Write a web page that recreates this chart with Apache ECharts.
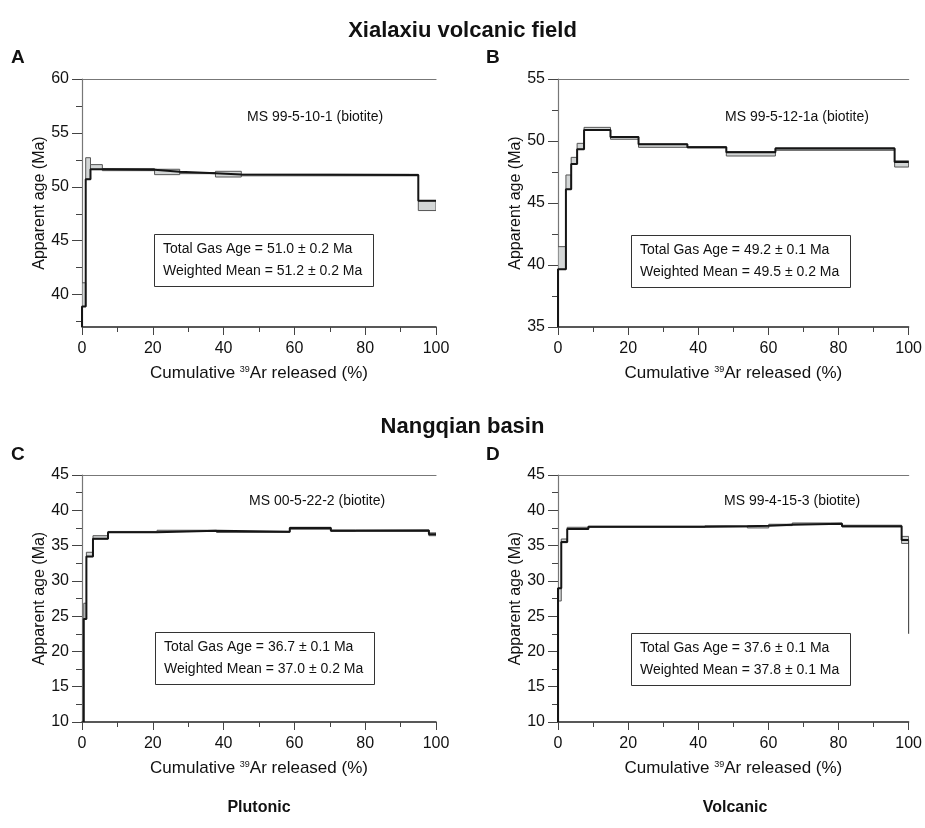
<!DOCTYPE html>
<html>
<head>
<meta charset="utf-8">
<script src="https://cdn.jsdelivr.net/npm/echarts@6.0.0/dist/echarts.min.js"></script>
<style>
  html, body { margin: 0; padding: 0; background: #fff; }
  #chart { width: 925px; height: 828px; }
</style>
</head>
<body>
<div id="chart"></div>
<script>
// step spectra: cumulative 39Ar (%) boundaries, error box low/high, age line (Ma)
const stepsA = [0, 1.05, 2.4, 5.75, 20.5, 27.6, 37.7, 45.0, 95.0, 100];
const lowA   = [38.9, 50.7, 51.6, 51.5, 51.13, 51.22, 50.91, 51.02, 47.8];
const highA  = [41.1, 52.7, 52.06, 51.7, 51.63, 51.32, 51.44, 51.16, 48.7];
const ageA   = [38.9, 50.7, 51.62, 51.58, 51.4, 51.27, 51.15, 51.1, 48.7];

const stepsB = [0, 2.26, 3.76, 5.45, 7.43, 14.97, 22.97, 36.9, 48.0, 62.0, 96.0, 100];
const lowB   = [39.65, 46.1, 48.15, 49.33, 50.89, 50.14, 49.49, 49.45, 48.79, 49.25, 47.9];
const highB  = [41.48, 47.26, 48.68, 49.81, 51.1, 50.35, 49.76, 49.55, 49.15, 49.45, 48.4];
const ageB   = [39.65, 46.1, 48.15, 49.33, 50.89, 50.33, 49.74, 49.5, 49.1, 49.4, 48.3];

const stepsC = [0.5, 1.24, 3.1, 7.35, 21.2, 38.0, 58.7, 70.3, 77.3, 98.0, 100];
const lowC   = [24.6, 33.43, 35.93, 36.85, 37.02, 36.9, 37.31, 37.02, 37.05, 36.4];
const highC  = [26.83, 34.05, 36.4, 37.0, 37.17, 37.0, 37.59, 37.2, 37.2, 36.8];
const ageC   = [24.6, 33.45, 35.95, 36.9, 37.1, 36.95, 37.5, 37.1, 37.15, 36.6];

const stepsD = [0, 0.93, 2.63, 8.66, 41.9, 54.0, 60.1, 66.8, 81.0, 98.0, 100];
const lowD   = [27.15, 35.41, 37.31, 37.63, 37.7, 37.5, 37.83, 38.02, 37.65, 35.3];
const highD  = [28.95, 35.93, 37.59, 37.73, 37.8, 37.8, 38.02, 38.2, 37.88, 36.3];
const ageD   = [28.95, 35.5, 37.35, 37.68, 37.75, 37.8, 37.95, 38.1, 37.75, 35.8];
const tailD  = 22.5; // line drops at 100 % in D

// axis ticks
const xMajor = [0, 20, 40, 60, 80, 100];
const xMinor = [10, 30, 50, 70, 90];
const yMajorA = [40, 45, 50, 55, 60];
const yMinorA = [37.5, 42.5, 47.5, 52.5, 57.5];
const yMajorB = [35, 40, 45, 50, 55];
const yMinorB = [37.5, 42.5, 47.5, 52.5];
const yMajorCD = [10, 15, 20, 25, 30, 35, 40, 45];
const yMinorCD = [12.5, 17.5, 22.5, 27.5, 32.5, 37.5, 42.5];

const samples = ['MS 99-5-10-1 (biotite)', 'MS 99-5-12-1a (biotite)', 'MS 00-5-22-2 (biotite)', 'MS 99-4-15-3 (biotite)'];
const ageTexts = [
  'Total Gas Age = 51.0 ± 0.2 Ma\nWeighted Mean = 51.2 ± 0.2 Ma',
  'Total Gas Age = 49.2 ± 0.1 Ma\nWeighted Mean = 49.5 ± 0.2 Ma',
  'Total Gas Age = 36.7 ± 0.1 Ma\nWeighted Mean = 37.0 ± 0.2 Ma',
  'Total Gas Age = 37.6 ± 0.1 Ma\nWeighted Mean = 37.8 ± 0.1 Ma'
];

const FONT = '"Liberation Sans", Arial, Helvetica, sans-serif';
const chart = echarts.init(document.getElementById('chart'));

const panels = [
  { steps: stepsA, low: lowA, high: highA, age: ageA, yMin: 37, yMax: 60, yMajor: yMajorA, yMinor: yMinorA,
    grid: { left: 82, top: 79, width: 354, height: 248 }, box: [154, 234], label: [247, 117] },
  { steps: stepsB, low: lowB, high: highB, age: ageB, yMin: 35, yMax: 55, yMajor: yMajorB, yMinor: yMinorB,
    grid: { left: 558, top: 79, width: 354, height: 248 }, box: [631, 235], label: [725, 117] },
  { steps: stepsC, low: lowC, high: highC, age: ageC, yMin: 10, yMax: 45, yMajor: yMajorCD, yMinor: yMinorCD,
    grid: { left: 82, top: 475, width: 354, height: 247 }, box: [155, 632], label: [249, 501] },
  { steps: stepsD, low: lowD, high: highD, age: ageD, tail: tailD, yMin: 10, yMax: 45, yMajor: yMajorCD, yMinor: yMinorCD,
    grid: { left: 558, top: 475, width: 354, height: 247 }, box: [631, 633], label: [724, 501] }
];

const grid = [], xAxis = [], yAxis = [], series = [], title = [];

panels.forEach((p, i) => {
  grid.push(p.grid);
  // main x axis with labels, then minor ticks, then the top frame line
  xAxis.push({
    gridIndex: i, type: 'value', min: 0, max: 100, position: 'bottom',
    name: 'Cumulative {sup|39}Ar released (%)', nameLocation: 'middle', nameGap: 38,
    nameTextStyle: { fontFamily: FONT, fontSize: 17, color: '#111',
      rich: { sup: { fontFamily: FONT, fontSize: 9, verticalAlign: 'top', lineHeight: 12, color: '#111' } } },
    axisLine: { onZero: false, lineStyle: { color: '#222', width: 1.5 } },
    axisTick: { inside: false, customValues: xMajor, length: 8, lineStyle: { color: '#444', width: 1 } },
    axisLabel: { customValues: xMajor, margin: 14, fontFamily: FONT, fontSize: 16, color: '#111' },
    splitLine: { show: false }
  });
  xAxis.push({
    gridIndex: i, type: 'value', min: 0, max: 100, position: 'bottom',
    axisLine: { show: false, onZero: false },
    axisTick: { inside: false, customValues: xMinor, length: 5, lineStyle: { color: '#444', width: 1 } },
    axisLabel: { show: false }, splitLine: { show: false }
  });
  xAxis.push({
    gridIndex: i, type: 'value', min: 0, max: 100, position: 'top',
    axisLine: { onZero: false, lineStyle: { color: '#777', width: 1.2 } },
    axisTick: { show: false }, axisLabel: { show: false }, splitLine: { show: false }
  });
  yAxis.push({
    gridIndex: i, type: 'value', min: p.yMin, max: p.yMax, position: 'left',
    name: 'Apparent age (Ma)', nameLocation: 'middle', nameGap: 30,
    nameTextStyle: { fontFamily: FONT, fontSize: 16, color: '#111' },
    axisLine: { onZero: false, lineStyle: { color: '#777', width: 1.2 } },
    axisTick: { inside: false, customValues: p.yMajor, length: 10, lineStyle: { color: '#444', width: 1 } },
    axisLabel: { customValues: p.yMajor, margin: 13, fontFamily: FONT, fontSize: 16, color: '#111' },
    splitLine: { show: false }
  });
  yAxis.push({
    gridIndex: i, type: 'value', min: p.yMin, max: p.yMax, position: 'left',
    axisLine: { show: false, onZero: false },
    axisTick: { inside: false, customValues: p.yMinor, length: 6, lineStyle: { color: '#444', width: 1 } },
    axisLabel: { show: false }, splitLine: { show: false }
  });

  const boxData = p.low.map((lo, k) => [p.steps[k], p.steps[k + 1], lo, p.high[k]]);
  series.push({
    type: 'custom', xAxisIndex: i * 3, yAxisIndex: i * 2, clip: true,
    data: boxData,
    encode: { x: [0, 1], y: [2, 3] },
    renderItem: (params, api) => {
      const a = api.coord([api.value(0), api.value(3)]);
      const b = api.coord([api.value(1), api.value(2)]);
      return {
        type: 'rect',
        shape: { x: a[0], y: a[1], width: b[0] - a[0], height: Math.max(b[1] - a[1], 1) },
        style: { fill: '#d3d6d6', stroke: '#555', lineWidth: 1 }
      };
    }
  });

  // step path of the apparent ages
  const pts = [[p.steps[0], p.yMin], [p.steps[0], p.age[0]]];
  p.age.forEach((v, k) => {
    pts.push([p.steps[k + 1], v]);
    if (k + 1 < p.age.length) pts.push([p.steps[k + 1], p.age[k + 1]]);
  });
  series.push({
    type: 'line', xAxisIndex: i * 3, yAxisIndex: i * 2, data: pts,
    showSymbol: false, symbol: 'none', clip: true, silent: true,
    lineStyle: { color: '#151515', width: 2 }
  });
  if (p.tail !== undefined) {
    const last = p.steps[p.steps.length - 1];
    series.push({
      type: 'line', xAxisIndex: i * 3, yAxisIndex: i * 2,
      data: [[last, p.age[p.age.length - 1]], [last, p.tail]],
      showSymbol: false, symbol: 'none', silent: true,
      lineStyle: { color: '#333', width: 1 }
    });
  }

  title.push({
    text: ageTexts[i], left: p.box[0], top: p.box[1],
    borderColor: '#333', borderWidth: 1, padding: [4, 11, 5, 9],
    textStyle: { fontFamily: FONT, fontSize: 14, fontWeight: 'normal', color: '#111', lineHeight: 22 }
  });
});

const headStyle = { fontFamily: FONT, fontWeight: 'bold', fill: '#111' };
const graphic = [
  { type: 'text', left: 'center', top: 20, style: Object.assign({ text: 'Xialaxiu volcanic field', fontSize: 22 }, headStyle) },
  { type: 'text', left: 'center', top: 416, style: Object.assign({ text: 'Nangqian basin', fontSize: 22 }, headStyle) },
  { type: 'text', left: 11, top: 48, style: Object.assign({ text: 'A', fontSize: 19 }, headStyle) },
  { type: 'text', left: 486, top: 48, style: Object.assign({ text: 'B', fontSize: 19 }, headStyle) },
  { type: 'text', left: 11, top: 445, style: Object.assign({ text: 'C', fontSize: 19 }, headStyle) },
  { type: 'text', left: 486, top: 445, style: Object.assign({ text: 'D', fontSize: 19 }, headStyle) },
  { type: 'text', x: 259, y: 808, style: Object.assign({ text: 'Plutonic', fontSize: 16, align: 'center', verticalAlign: 'middle' }, headStyle) },
  { type: 'text', x: 735, y: 808, style: Object.assign({ text: 'Volcanic', fontSize: 16, align: 'center', verticalAlign: 'middle' }, headStyle) }
];
panels.forEach((p, i) => {
  graphic.push({ type: 'text', x: p.label[0], y: p.label[1],
    style: { text: samples[i], fontFamily: FONT, fontSize: 14, fill: '#111', verticalAlign: 'middle' } });
});

chart.setOption({
  animation: false,
  backgroundColor: '#fff',
  grid: grid,
  xAxis: xAxis,
  yAxis: yAxis,
  series: series,
  title: title,
  graphic: graphic
});
</script>
</body>
</html>
